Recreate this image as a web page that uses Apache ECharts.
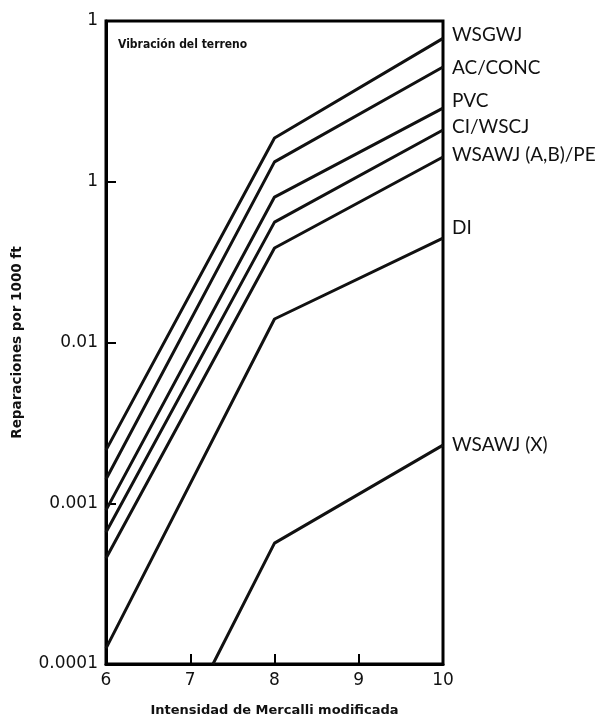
<!DOCTYPE html>
<html>
<head>
<meta charset="utf-8">
<script src="https://cdn.jsdelivr.net/npm/echarts@6/dist/echarts.min.js"></script>
<style>html,body{margin:0;padding:0;background:#fff}#c{width:602px;height:717px}</style>
</head>
<body>
<div id="c"></div>
<script>
const seriesNames = ['WSGWJ','AC/CONC','PVC','CI/WSCJ','WSAWJ (A,B)/PE','DI','WSAWJ (X)'];
const xWSGWJ = [6, 8, 10];
const WSGWJ = [0.00214, 0.187, 0.78];
const xACCONC = [6, 8, 10];
const ACCONC = [0.00141, 0.133, 0.517];
const xPVC = [6, 8, 10];
const PVC = [0.000906, 0.0803, 0.287];
const xCIWSCJ = [6, 8, 10];
const CIWSCJ = [0.00066, 0.0561, 0.21];
const xWSAWJAB = [6, 8, 10];
const WSAWJAB = [0.000455, 0.0387, 0.1425];
const xDI = [6, 8, 10];
const DI = [0.000125, 0.014, 0.0446];
const xWSAWJX = [7.27, 8, 10];
const WSAWJX = [0.0001, 0.000565, 0.0023];
const yTickValues = [0.0001, 0.001, 0.01, 0.1, 1];
const yTickLabels = ['0.0001', '0.001', '0.01', '1', '1'];
const xTickLabels = ['6', '7', '8', '9', '10'];

const allX = [xWSGWJ, xACCONC, xPVC, xCIWSCJ, xWSAWJAB, xDI, xWSAWJX];
const allY = [WSGWJ, ACCONC, PVC, CIWSCJ, WSAWJAB, DI, WSAWJX];
const labelDy = [-3, 1, -7, -3, -2, -10, 0];

const chart = echarts.init(document.getElementById('c'));
const font = 'Lato';
chart.setOption({
  animation: false,
  backgroundColor: '#fff',
  grid: { left: 106, top: 21, right: 159, bottom: 53, show: true, borderColor: '#000', borderWidth: 3, backgroundColor: 'transparent', containLabel: false, outerBoundsMode: 'none' },
  title: {
    text: 'Vibración del terreno', left: 113, top: 34,
    textStyle: { fontSize: 12, fontWeight: 'bold', color: '#111', fontFamily: 'DejaVu Sans Condensed' }
  },
  xAxis: {
    type: 'value', min: 6, max: 10, interval: 1,
    name: 'Intensidad de Mercalli modificada', nameLocation: 'middle', nameGap: 40,
    nameTextStyle: { fontSize: 13, fontWeight: 'bold', color: '#111', fontFamily: 'DejaVu Sans' },
    axisLine: { lineStyle: { color: '#000', width: 3 } },
    axisTick: { inside: true, length: 10, lineStyle: { color: '#000', width: 2 } },
    splitLine: { show: false },
    axisLabel: { fontSize: 17, color: '#111', margin: 8, fontFamily: 'DejaVu Sans',
      formatter: v => xTickLabels[Math.round(v) - 6] }
  },
  yAxis: {
    type: 'log', logBase: 10, min: 0.0001, max: 1,
    name: 'Reparaciones por 1000 ft', nameLocation: 'middle', nameGap: 82, nameRotate: 90,
    nameTextStyle: { fontSize: 13.5, fontWeight: 'bold', color: '#111', fontFamily: 'DejaVu Sans' },
    axisLine: { lineStyle: { color: '#000', width: 3 } },
    axisTick: { inside: true, length: 10, lineStyle: { color: '#000', width: 2 } },
    splitLine: { show: false },
    axisLabel: { fontSize: 17, color: '#111', margin: 8, fontFamily: 'DejaVu Sans',
      formatter: v => { const i = yTickValues.findIndex(t => Math.abs(Math.log10(t) - Math.log10(v)) < 1e-6); return i >= 0 ? yTickLabels[i] : ''; } }
  },
  series: seriesNames.map((n, i) => ({
    name: n, type: 'line', symbol: 'none',
    data: allX[i].map((x, j) => [x, allY[i][j]]),
    lineStyle: { color: '#111', width: 3 },
    endLabel: { show: true, formatter: n, fontSize: 19, color: '#111', fontFamily: font,
      offset: [1, labelDy[i]] }
  }))
});
</script>
</body>
</html>
